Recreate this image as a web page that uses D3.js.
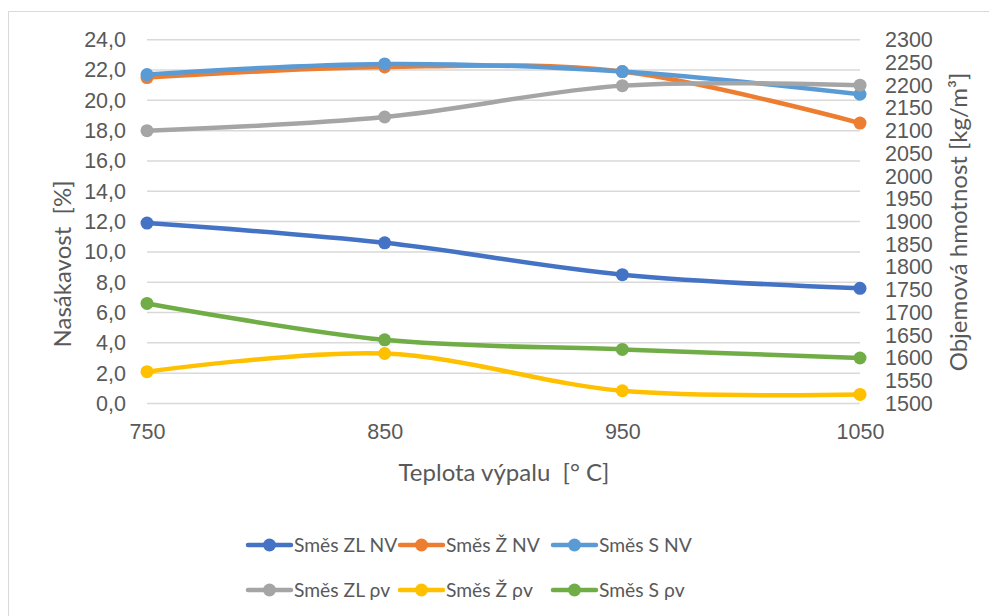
<!DOCTYPE html>
<html>
<head>
<meta charset="utf-8">
<script src="https://cdn.jsdelivr.net/npm/d3@7"></script>
<style>
  html, body { margin: 0; padding: 0; background: #fff; }
  svg { display: block; font-family: Lato, "Open Sans", "Liberation Sans", sans-serif; }
  .tick text { fill: #595959; }
</style>
</head>
<body>
<svg id="chart" width="989" height="616"></svg>
<script>
// Firing temperature [°C]
const temperatures = [750, 850, 950, 1050];

// Water absorption NV [%] — left axis
const zlNV = [11.9, 10.6, 8.5, 7.6];
const zNV  = [21.5, 22.2, 21.9, 18.5];
const sNV  = [21.7, 22.4, 21.9, 20.4];

// Bulk density ρv [kg/m³] — right axis
const zlRho = [2100, 2130, 2199, 2200];
const zRho  = [1570, 1610, 1528, 1520];
const sRho  = [1720, 1640, 1619, 1600];

const leftTicks  = d3.range(0, 24.01, 2);
const rightTicks = d3.range(1500, 2300.01, 50);
const xTicks = [750, 850, 950, 1050];

const seriesNames = ["Směs ZL NV", "Směs Ž NV", "Směs S NV", "Směs ZL ρv", "Směs Ž ρv", "Směs S ρv"];
const seriesColors = ["#4472C4", "#ED7D31", "#5B9BD5", "#A5A5A5", "#FFC000", "#70AD47"];
const seriesValues = [zlNV, zNV, sNV, zlRho, zRho, sRho];
const seriesAxis = ["left", "left", "left", "right", "right", "right"];

const svg = d3.select("#chart");

// chart area frame
svg.append("rect")
  .attr("x", 8.5).attr("y", 11.5)
  .attr("width", 1000).attr("height", 700)
  .attr("fill", "none").attr("stroke", "#D9D9D9").attr("stroke-width", 1);

const x = d3.scaleLinear().domain([750, 1050]).range([147, 860]);
const yL = d3.scaleLinear().domain([0, 24]).range([403.5, 39.7]);
const yR = d3.scaleLinear().domain([1500, 2300]).range([403.5, 39.7]);

// horizontal gridlines
svg.append("g").selectAll("line").data(leftTicks).join("line")
  .attr("x1", x(750)).attr("x2", x(1050))
  .attr("y1", d => yL(d)).attr("y2", d => yL(d))
  .attr("stroke", "#D9D9D9").attr("stroke-width", 1.5);

const tickFont = 21.5;
const titleFont = 24;
const legendFont = 19.3;
const fmtLeft = d => d.toFixed(1).replace(".", ",");

// left axis
const gL = svg.append("g").attr("transform", "translate(126,0)")
  .call(d3.axisLeft(yL).tickValues(leftTicks).tickFormat(fmtLeft).tickSize(0).tickPadding(0));
gL.select(".domain").remove();
gL.selectAll("text").attr("font-size", tickFont).attr("font-family", null);

// right axis
const gR = svg.append("g").attr("transform", "translate(885,0)")
  .call(d3.axisRight(yR).tickValues(rightTicks).tickFormat(d3.format("d")).tickSize(0).tickPadding(0));
gR.select(".domain").remove();
gR.selectAll("text").attr("font-size", tickFont).attr("font-family", null);

// bottom axis
const gX = svg.append("g").attr("transform", "translate(0,424)")
  .call(d3.axisBottom(x).tickValues(xTicks).tickFormat(d3.format("d")).tickSize(0).tickPadding(0));
gX.select(".domain").remove();
gX.selectAll("text").attr("font-size", tickFont).attr("font-family", null);

// axis titles
svg.append("text")
  .attr("transform", "translate(71,264) rotate(-90)")
  .attr("text-anchor", "middle").attr("font-size", titleFont).attr("fill", "#595959")
  .attr("xml:space", "preserve")
  .text("Nasákavost  [%]");

svg.append("text")
  .attr("transform", "translate(967,222) rotate(-90)")
  .attr("text-anchor", "middle").attr("font-size", titleFont).attr("fill", "#595959")
  .text("Objemová hmotnost [kg/m³]");

svg.append("text")
  .attr("x", 504).attr("y", 481)
  .attr("text-anchor", "middle").attr("font-size", titleFont).attr("fill", "#595959")
  .attr("xml:space", "preserve")
  .text("Teplota výpalu  [° C]");

// series
const plot = svg.append("g");
seriesValues.forEach((vals, i) => {
  const y = seriesAxis[i] === "left" ? yL : yR;
  const pts = temperatures.map((t, j) => [x(t), y(vals[j])]);
  const line = d3.line().curve(d3.curveCardinal.tension(0));
  const g = plot.append("g");
  g.append("path").attr("d", line(pts))
    .attr("fill", "none").attr("stroke", seriesColors[i])
    .attr("stroke-width", 4.5).attr("stroke-linecap", "round").attr("stroke-linejoin", "round");
  g.selectAll("circle").data(pts).join("circle")
    .attr("cx", d => d[0]).attr("cy", d => d[1]).attr("r", 6.5)
    .attr("fill", seriesColors[i]);
});

// legend
const legendPos = [
  [248, 545], [400, 545], [553, 545],
  [248, 590], [400, 590], [553, 590]
];
const leg = svg.append("g");
seriesNames.forEach((name, i) => {
  const [lx, ly] = legendPos[i];
  const g = leg.append("g").attr("transform", `translate(${lx},${ly})`);
  g.append("line").attr("x1", 0).attr("x2", 43).attr("y1", 0).attr("y2", 0)
    .attr("stroke", seriesColors[i]).attr("stroke-width", 4.5).attr("stroke-linecap", "round");
  g.append("circle").attr("cx", 21.5).attr("cy", 0).attr("r", 6.5).attr("fill", seriesColors[i]);
  g.append("text").attr("x", 46).attr("y", 0).attr("dy", "0.35em")
    .attr("font-size", legendFont).attr("fill", "#595959").text(name);
});
</script>
</body>
</html>
